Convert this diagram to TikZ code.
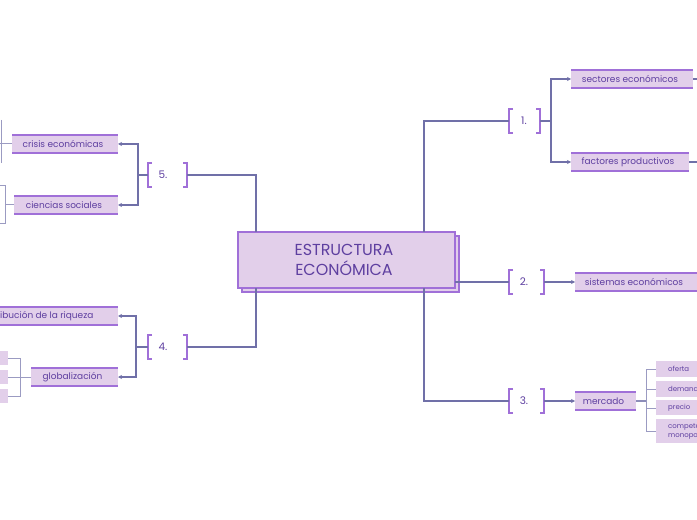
\documentclass[tikz,border=0pt]{standalone}
\usepackage{fontspec}
\setmainfont{Poppins}
\usetikzlibrary{arrows.meta}
\definecolor{fillc}{HTML}{E2CFEA}
\definecolor{bord}{HTML}{A070D8}
\definecolor{txt}{HTML}{5E3FA0}
\definecolor{linec}{HTML}{7070A8}
\tikzset{
 x=1bp,y=-1bp,
 conn/.style={draw=linec,line width=1.1bp},
 arr/.style={conn,-{Stealth[length=4bp,width=4bp]}},
 leaf/.style={fill=fillc,text=txt,font=\fontsize{9}{11}\selectfont,inner sep=0pt,anchor=center},
 br/.style={draw=bord,line width=1.6bp},
 num/.style={text=txt,font=\fontsize{10.5}{12}\selectfont,inner sep=0pt}
}
\newcommand{\leafbox}[6]{% name, x1,y1,x2,y2,text
 \fill[fillc] (#2,#3) rectangle (#4,#5);
 \draw[bord,line width=1.5bp] (#2,#3)--(#4,#3) (#2,#5)--(#4,#5);
 \node[leaf,fill=none] (#1) at ({(#2+#4)/2-2},{(#3+#5)/2}) {#6};
 \coordinate (#1-w) at (#2,{(#3+#5)/2});
 \coordinate (#1-e) at (#4,{(#3+#5)/2});
}
\newcommand{\brk}[5]{% name, x1,x2,yc,label
 \draw[br] (#2+4,#4-12)--(#2,#4-12)--(#2,#4+12)--(#2+4,#4+12);
 \draw[br] (#3-4,#4-12)--(#3,#4-12)--(#3,#4+12)--(#3-4,#4+12);
 \node[num] (#1) at ({#2+15},#4) {#5};
 \coordinate (#1-w) at (#2,#4);
 \coordinate (#1-e) at (#3,#4);
}
\begin{document}
\begin{tikzpicture}
\useasboundingbox (0,0) rectangle (697,520);
\begin{scope}
\clip (0,0) rectangle (697,520);
% central
\draw[bord,fill=fillc,line width=1.2bp] (242,236) rectangle (459,292);
\draw[bord,fill=fillc,line width=1.2bp] (238,232) rectangle (455,288);
\node[text=txt,font=\fontsize{16}{20}\selectfont,align=center,inner sep=0pt] (c) at (344,260) {ESTRUCTURA\\ECONÓMICA};
\coordinate (cTL) at (256,232); \coordinate (cBL) at (256,288);
\coordinate (cTR) at (424,232); \coordinate (cBR) at (424,288);
% brackets
\brk{b1}{509}{540}{121}{1.}
\brk{b2}{509}{544}{282}{2.}
\brk{b3}{509}{544}{401}{3.}
\brk{b5}{148}{187}{175}{5.}
\brk{b4}{148}{187}{347}{4.}
\draw[conn] (cTL)|-(b5-e); \draw[conn] (cBL)|-(b4-e);
\draw[conn] (cTR)|-(b1-w); \draw[conn] (455,282)--(b2-w);
\draw[conn] (cBR)|-(b3-w);
% leaves right
\leafbox{se}{571}{70}{693}{88}{sectores económicos}
\leafbox{fp}{571}{153}{689}{171}{factores productivos}
\leafbox{si}{575}{273}{697}{291}{sistemas económicos}
\leafbox{me}{575}{392}{636}{410}{mercado}
\draw[conn] (b1-e)--(551,121); \draw[arr] (551,121)|-(se-w); \draw[arr] (551,121)|-(fp-w);
\draw[conn] (se-e)--(697,79); \draw[conn] (fp-e)--(697,162);
\draw[arr] (b2-e)--(si-w);
\draw[arr] (b3-e)--(me-w);
% mercado subs
\tikzset{sub/.style={fill=fillc,text=txt,font=\fontsize{7}{9}\selectfont,inner sep=0pt}}
\fill[fillc] (656,361) rectangle (700,377); \node[sub,anchor=west] (o) at (668,369) {oferta};
\fill[fillc] (656,381) rectangle (700,397); \node[sub,anchor=west] (d) at (668,389) {demanda};
\fill[fillc] (656,400) rectangle (700,415); \node[sub,anchor=west] (p) at (668,408) {precio};
\fill[fillc] (656,419) rectangle (700,443); \node[sub,anchor=west,align=left] (cm) at (668,431) {competencia\\monopolio};
\draw[draw=linec!80,line width=1.5bp] (me-e)--(646,401);
\draw[draw=linec!70,line width=1bp] (656,369)-|(646,431)--(656,431) (646,389)--(656,389) (646,408)--(656,408);
% left leaves
\leafbox{cr}{12}{135}{118}{153}{crisis económicas}
\leafbox{ci}{14}{196}{118}{214}{ciencias sociales}
\leafbox{di}{-40}{307}{118}{325}{distribución de la riqueza}
\leafbox{gl}{31}{368}{118}{386}{globalización}
\draw[conn] (b5-w)--(138,175); \draw[arr] (138,175)|-(cr-e); \draw[arr] (138,175)|-(ci-e);
\draw[conn] (b4-w)--(136,347); \draw[arr] (136,347)|-(di-e); \draw[arr] (136,347)|-(gl-e);
\draw[draw=linec!70,line width=1bp] (cr-w)--(0,144) (1,120)--(1,163);
\draw[draw=linec!70,line width=1bp] (ci-w)--(5,205) (0,186)-|(5,224)--(0,224);
\fill[fillc] (-2,351) rectangle (8,365); \fill[fillc] (-2,370) rectangle (8,384); \fill[fillc] (-2,389) rectangle (8,403);
\draw[draw=linec!70,line width=1bp] (gl-w)--(20,377) (8,358)-|(20,396)--(8,396) (8,377)--(20,377);
\end{scope}
\end{tikzpicture}
\end{document}
